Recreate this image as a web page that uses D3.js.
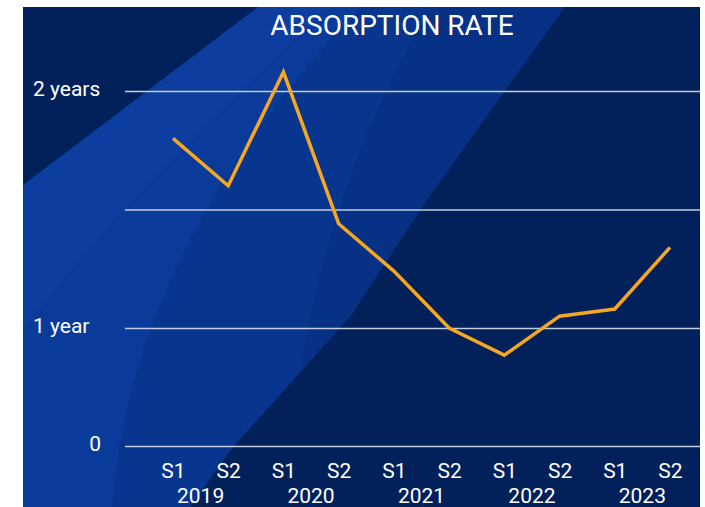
<!DOCTYPE html>
<html>
<head>
<meta charset="utf-8">
<script src="https://cdn.jsdelivr.net/npm/d3@7"></script>
<style>
    body { margin: 0; background: #fff; }
    svg { display: block; }
    text { font-family: Roboto, "Liberation Sans", sans-serif; fill: #fff; }
</style>
</head>
<body>
<div id="chart"></div>
<script>
// Absorption rate chart, half-year periods 2019 - 2023

// data (years)
var periods = ["2019-S1", "2019-S2", "2020-S1", "2020-S2", "2021-S1",
    "2021-S2", "2022-S1", "2022-S2", "2023-S1", "2023-S2"];
var halfLabels = ["S1", "S2", "S1", "S2", "S1", "S2", "S1", "S2", "S1", "S2"];
var years = ["2019", "2020", "2021", "2022", "2023"];
var absorption = [1.80, 1.60, 2.08, 1.44, 1.24, 1.00, 0.77, 1.05, 1.08, 1.34];

// y ticks and their labels
var yTicks = [0, 1, 1.5, 2];
var yTickLabels = ["0", "1 year", "", "2 years"];

var svgWidth = 705;
var svgHeight = 507;

var margin = {
    top: 91,
    bottom: 61,
    right: 5,
    left: 125
};

var height = svgHeight - margin.top - margin.bottom;
var width = svgWidth - margin.left - margin.right;

var svg = d3.select("#chart")
    .append("svg")
    .attr("width", svgWidth)
    .attr("height", svgHeight);

// background panel with the diagonal blue bands
var bg = svg.append("g");

bg.append("rect")
    .attr("x", 23)
    .attr("y", 7)
    .attr("width", 677)
    .attr("height", 500)
    .attr("fill", "#02215a");

bg.append("path")
    .attr("d", "M23,185 L258,7 L565,7 L427,200 L350,317 L233,447 L190,507 L23,507 Z")
    .attr("fill", "#0a3b9b");

// softer darker band inside the bright one
bg.append("path")
    .attr("d", "M360,7 L565,7 L427,200 L350,317 L233,447 L190,507 L112,507 Q130,250 360,7 Z")
    .attr("fill", "#000c30")
    .attr("opacity", 0.13);

bg.append("path")
    .attr("d", "M430,7 L565,7 L427,200 L350,317 L300,372 Q330,180 430,7 Z")
    .attr("fill", "#000c30")
    .attr("opacity", 0.08);

bg.append("path")
    .attr("d", "M23,185 L258,7 L330,7 Q120,200 23,330 Z")
    .attr("fill", "#2a5cc0")
    .attr("opacity", 0.12);

var chartGroup = svg.append("g")
    .attr("transform", `translate(${margin.left}, ${margin.top})`);

// scales
var xScale = d3.scalePoint()
    .domain(periods)
    .range([48, 545]);

// piecewise scale: the chart's gap between 1 and 2 years is twice the 0-1 gap
var yScale = d3.scaleLinear()
    .domain([0, 1, 2])
    .range([height, height - 118, 0]);

// y axis doubles as gridlines
var leftAxis = d3.axisLeft(yScale)
    .tickValues(yTicks)
    .tickSize(-width)
    .tickFormat((d, i) => yTickLabels[i]);

var yAxis = chartGroup.append("g")
    .call(leftAxis);

yAxis.select(".domain").remove();
yAxis.selectAll(".tick line")
    .attr("stroke", "#c3cce0")
    .attr("stroke-width", 1.6);
yAxis.selectAll(".tick text")
    .attr("fill", "#fff")
    .attr("font-size", "21px")
    .attr("dy", "0.2em")
    .attr("text-anchor", (d, i) => yTickLabels[i].length > 1 ? "start" : "end")
    .attr("x", (d, i) => yTickLabels[i].length > 1 ? -92 : -24);

// x axis: S1 / S2 row and year row
var bottomAxis = d3.axisBottom(xScale)
    .tickSize(0)
    .tickFormat((d, i) => halfLabels[i]);

var xAxis = chartGroup.append("g")
    .attr("transform", `translate(0, ${height})`)
    .call(bottomAxis);

xAxis.select(".domain").remove();
xAxis.selectAll(".tick text")
    .attr("fill", "#fff")
    .attr("font-size", "21px")
    .attr("y", 32)
    .attr("dy", 0);

chartGroup.selectAll(".yearLabel")
    .data(years)
    .enter()
    .append("text")
    .classed("yearLabel", true)
    .attr("x", (d, i) => (xScale(periods[i * 2]) + xScale(periods[i * 2 + 1])) / 2)
    .attr("y", height + 57)
    .attr("text-anchor", "middle")
    .attr("font-size", "21px")
    .text(d => d);

// the line
var line = d3.line()
    .x((d, i) => xScale(periods[i]))
    .y(d => yScale(d));

chartGroup.append("path")
    .datum(absorption)
    .attr("d", line)
    .attr("fill", "none")
    .attr("stroke", "#f5a623")
    .attr("stroke-width", 3.5)
    .attr("stroke-linejoin", "miter");

// title
svg.append("text")
    .attr("x", 392)
    .attr("y", 35)
    .attr("text-anchor", "middle")
    .attr("font-size", "28px")
    .text("ABSORPTION RATE");
</script>
</body>
</html>
